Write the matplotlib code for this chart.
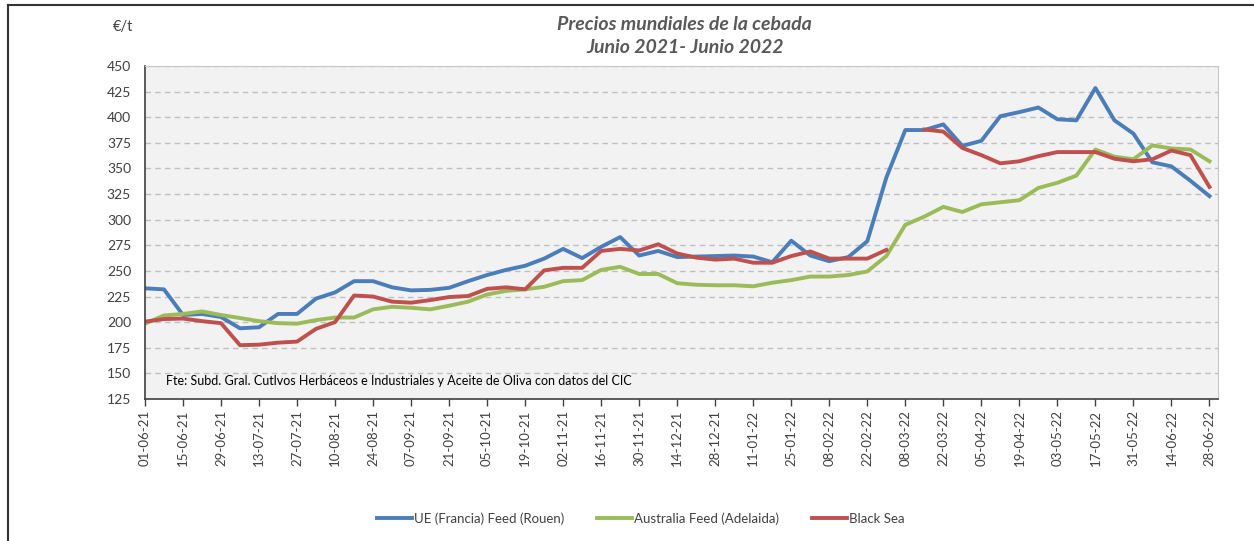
import numpy as np
import matplotlib.pyplot as plt
from matplotlib.lines import Line2D

plt.rcParams['font.family'] = ['Lato', 'DejaVu Sans']

# Weekly prices (EUR/t), 01-06-21 .. 28-06-22
ue_rouen = [233, 232, 207, 208, 205, 194, 195, 208, 208, 223,
            229, 240, 240, 234, 231, 231.5, 233.5, 240, 246, 251,
            255, 262, 271.5, 262.5, 273.5, 283, 265, 269.5, 263.5, 264,
            264.5, 265, 264, 258.5, 279.5, 265, 259.5, 263.5, 279, 341,
            387.5, 387.5, 393, 372, 377, 401, 405, 409.5, 398, 397,
            428.5, 397, 384, 356, 352, 338, 323]
australia = [198.5, 206.5, 208, 210.5, 207, 204, 201, 199, 198.5, 202,
             204.5, 204.5, 212.5, 215, 214, 212.5, 216, 220, 227, 230.5,
             232, 234.5, 240, 241, 251, 254, 247, 247, 238, 236.5,
             236, 236, 235, 238.5, 241, 244.5, 244.5, 246, 249.5, 264.5,
             295, 303, 312.5, 307.5, 315, 317, 319, 331, 336, 343,
             368.5, 361.5, 359, 372.5, 369.5, 368.5, 357]
black_sea = [200.5, 203, 203.5, 201, 199, 177.5, 178, 180, 181, 193.5,
             200, 226, 225, 220, 219, 221.5, 224.5, 225.5, 232.5, 234,
             232, 250.5, 253, 253, 269.5, 271.5, 270, 276, 267, 263,
             261, 262, 258, 258, 264.5, 269, 262, 262, 262, 270.5,
             np.nan, 388, 386, 370, 363, 355, 357, 362, 366, 366,
             366, 359.5, 357, 359, 367.5, 363, 332]

tick_labels = ['01-06-21', '15-06-21', '29-06-21', '13-07-21', '27-07-21',
               '10-08-21', '24-08-21', '07-09-21', '21-09-21', '05-10-21',
               '19-10-21', '02-11-21', '16-11-21', '30-11-21', '14-12-21',
               '28-12-21', '11-01-22', '25-01-22', '08-02-22', '22-02-22',
               '08-03-22', '22-03-22', '05-04-22', '19-04-22', '03-05-22',
               '17-05-22', '31-05-22', '14-06-22', '28-06-22']

weeks = np.arange(len(ue_rouen))
txt = '#404040'

fig = plt.figure(figsize=(12.54, 5.41), dpi=100)
ax = fig.add_axes([0.1156, 0.2625, 0.8557, 0.6155])
ax.set_facecolor('#F2F2F2')

ax.plot(weeks, ue_rouen, color='#4A7EBB', lw=2.8, label='UE (Francia) Feed (Rouen)')
ax.plot(weeks, australia, color='#9BBB59', lw=2.8, label='Australia Feed (Adelaida)')
ax.plot(weeks, black_sea, color='#C0504D', lw=2.8, label='Black Sea')

ax.set_xlim(0, 56.45)
ax.set_ylim(125, 450)
ax.set_yticks(np.arange(125, 451, 25))
ax.set_xticks(np.arange(0, len(ue_rouen), 2))
ax.set_xticklabels(tick_labels, rotation=90)
ax.tick_params(axis='x', direction='out', length=5, width=1, colors='#404040',
               labelsize=9.5, labelcolor=txt, pad=3)
ax.tick_params(axis='y', length=0, labelsize=10, labelcolor=txt, pad=10)
ax.yaxis.grid(True, color='#BFBFBF', ls=(0, (4, 3)), lw=1)
ax.set_axisbelow(True)

for s in ['top', 'right']:
    ax.spines[s].set_color('#C8C8C8')
for s in ['left', 'bottom']:
    ax.spines[s].set_color('#404040')
    ax.spines[s].set_linewidth(1.2)

ax.text(0.02, 0.035, 'Fte: Subd. Gral. Cutlvos Herbáceos e Industriales y Aceite de Oliva con datos del CIC',
        transform=ax.transAxes, fontsize=9, color='black', va='bottom')

fig.text(0.546, 0.934, 'Precios mundiales de la cebada\nJunio 2021- Junio 2022',
         ha='center', va='center', fontsize=14, fontweight='bold', style='italic',
         color='#595959', linespacing=1.45)
fig.text(0.090, 0.951, '€/t', ha='left', va='center', fontsize=10.5, color=txt)

fig.legend(loc='center', bbox_to_anchor=(0.511, 0.042), ncol=3, frameon=False,
           fontsize=9.5, handlelength=2.65, handletextpad=0.15, columnspacing=2.5,
           labelcolor=txt)

# outer chart frame (only left and top visible)
fig.add_artist(Line2D([0.0063, 0.0063], [0, 0.991], color='#333333', lw=1.5))
fig.add_artist(Line2D([0.0063, 1], [0.991, 0.991], color='#333333', lw=1.5))

fig.savefig('out.png', dpi=100)
